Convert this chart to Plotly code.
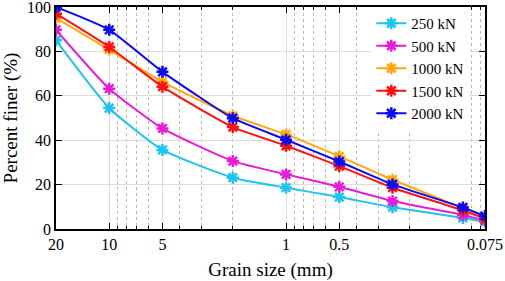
import plotly.graph_objects as go
import math

grain_size = [20, 10, 5, 2, 1, 0.5, 0.25, 0.1, 0.075]
series_names = ["250 kN", "500 kN", "1000 kN", "1500 kN", "2000 kN"]
p250 = [85.0, 54.5, 35.6, 23.1, 18.6, 14.4, 9.8, 5.0, 3.3]
p500 = [89.7, 63.2, 45.3, 30.6, 24.6, 19.0, 12.6, 6.3, 3.8]
p1000 = [95.0, 80.8, 66.3, 51.0, 42.6, 32.7, 22.2, 9.4, 5.0]
p1500 = [97.0, 82.0, 64.1, 45.9, 37.5, 28.3, 18.6, 8.4, 4.6]
p2000 = [100.0, 89.7, 70.8, 49.9, 40.2, 30.4, 20.1, 9.7, 5.8]
colors = ["#1CC4F0", "#E81CD8", "#FFA810", "#FF1010", "#0A0AF5"]
x_ticks = [20, 10, 5, 1, 0.5, 0.075]
x_tick_text = ["20", "10", "5", "1", "0.5", "0.075"]
x_minor = [9, 8, 7, 6, 4, 3, 2, 0.9, 0.8, 0.7, 0.6, 0.4, 0.3, 0.2, 0.09, 0.08]
y_ticks = [0, 20, 40, 60, 80, 100]

fig = go.Figure()
for name, vals, c in zip(series_names, [p250, p500, p1000, p1500, p2000], colors):
    fig.add_trace(go.Scatter(
        x=grain_size, y=vals, name=name, mode="lines+markers",
        line=dict(color=c, width=2, shape="spline", smoothing=0.5),
        marker=dict(symbol="asterisk", size=10, color=c, line=dict(color=c, width=2.5)),
    ))

font = "Liberation Serif, Times New Roman, serif"
fig.update_layout(
    width=505, height=281,
    margin=dict(l=56, r=20, t=7, b=52),
    paper_bgcolor="white", plot_bgcolor="white",
    font=dict(family=font, size=16, color="black"),
    showlegend=True,
    legend=dict(x=0.735, y=1.0, xanchor="left", yanchor="top",
                bgcolor="rgba(255,255,255,1)", borderwidth=0,
                font=dict(family=font, size=15), tracegroupgap=0),
    xaxis=dict(
        type="log", range=[math.log10(20), math.log10(0.075)],
        tickmode="array", tickvals=x_ticks, ticktext=x_tick_text,
        showline=True, linecolor="black", linewidth=1.5, mirror="ticks",
        ticks="inside", ticklen=6, tickcolor="black",
        showgrid=True, gridcolor="#DCDCDC", gridwidth=1,
        ticklabeloverflow="allow",
        minor=dict(tickmode="array", tickvals=x_minor, ticks="inside", ticklen=3,
                   tickcolor="black", showgrid=True, gridcolor="#BBBBBB",
                   griddash="dot", gridwidth=1),
        title=dict(text="Grain size (mm)", font=dict(size=19), standoff=12),
        zeroline=False, automargin=False,
    ),
    yaxis=dict(
        range=[0, 100], tickvals=y_ticks,
        showline=True, linecolor="black", linewidth=1.5, mirror="ticks",
        ticks="inside", ticklen=6, tickcolor="black",
        showgrid=True, gridcolor="#DCDCDC", gridwidth=1,
        ticklabeloverflow="allow",
        title=dict(text="Percent finer (%)", font=dict(size=19), standoff=6),
        zeroline=False, automargin=False,
    ),
)
fig.write_html("out.html", config={"displayModeBar": False},
               post_script="document.body.style.margin='0';")
